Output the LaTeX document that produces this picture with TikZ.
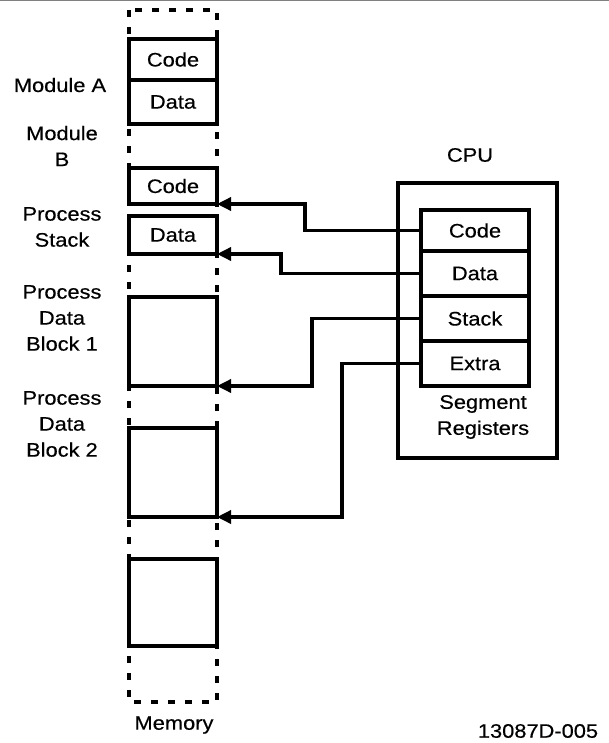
\documentclass[tikz,border=0pt]{standalone}
\usepackage{fontspec}
\setmainfont{Liberation Sans}[FakeStretch=1.12,FakeBold=0.4]
\usetikzlibrary{arrows.meta}
\begin{document}
\begin{tikzpicture}[x=1pt,y=-1pt,
  txt/.style={font=\fontsize{19.5pt}{26pt}\selectfont, align=center, inner sep=0pt},
  membox/.style={draw, line width=3.4pt, minimum width=88pt, anchor=north west, inner sep=0pt, outer sep=0pt},
  regbox/.style={draw, line width=3.4pt, minimum width=108pt, anchor=north west, inner sep=0pt, outer sep=0pt, font=\fontsize{19.5pt}{26pt}\selectfont},
  memedge/.style={line width=3.2pt, dash pattern=on 7pt off 10pt},
  conn/.style={line width=3.4pt, -{Triangle[length=14pt,width=13pt]}}
]
\useasboundingbox (0,0) rectangle (609,743);
\draw[gray, line width=0.8pt] (0,0.4) -- (609,0.4);
% memory column
\draw[memedge] (129,10) rectangle (217,702);
% memory boxes
\node[membox, minimum height=41pt, font=\fontsize{19.5pt}{26pt}\selectfont] (macode) at (129,39) {Code};
\node[membox, minimum height=44pt, font=\fontsize{19.5pt}{26pt}\selectfont] (madata) at (129,80) {Data};
\node[membox, minimum height=36pt, font=\fontsize{19.5pt}{26pt}\selectfont] (mbcode) at (129,168) {Code};
\node[membox, minimum height=38pt, font=\fontsize{19.5pt}{26pt}\selectfont] (mbdata) at (129,216) {Data};
\node[membox, minimum height=89pt] (pdb1) at (129,297) {};
\node[membox, minimum height=89pt] (pdb2) at (129,428) {};
\node[membox, minimum height=87pt] (extra) at (129,559) {};
% labels
\node[txt] (lma) at (60,85) {Module A};
\node[txt] (lmb) at (62,146) {Module\\B};
\node[txt] (lps) at (62,227) {Process\\Stack};
\node[txt] (lp1) at (62,318) {Process\\Data\\Block 1};
\node[txt] (lp2) at (62,424) {Process\\Data\\Block 2};
\node[txt] (lmem) at (174,725) {Memory};
% CPU
\node[txt] (lcpu) at (470,155) {CPU};
\node[draw, line width=3.4pt, minimum width=159pt, minimum height=275pt, anchor=north west, outer sep=0pt] (cpu) at (398,183) {};
\node[regbox, minimum height=41pt] (rcode) at (421,210) {Code};
\node[regbox, minimum height=45pt] (rdata) at (421,251) {Data};
\node[regbox, minimum height=45pt] (rstack) at (421,296) {Stack};
\node[regbox, minimum height=45pt] (rextra) at (421,341) {Extra};
\node[txt] (lseg) at (483,417) {Segment\\Registers};
% connectors
\draw[conn] (rcode.west) -- ++(-116,0) |- (mbcode.south east);
\draw[conn] (rdata.west) -- ++(-140,0) |- (mbdata.south east);
\draw[conn] (rstack.west) -- ++(-109,0) |- (pdb1.south east);
\draw[conn] (rextra.west) -- ++(-79,0) |- (pdb2.south east);
% figure number
\node[txt] (fig) at (538,731) {13087D-005};
\end{tikzpicture}
\end{document}
